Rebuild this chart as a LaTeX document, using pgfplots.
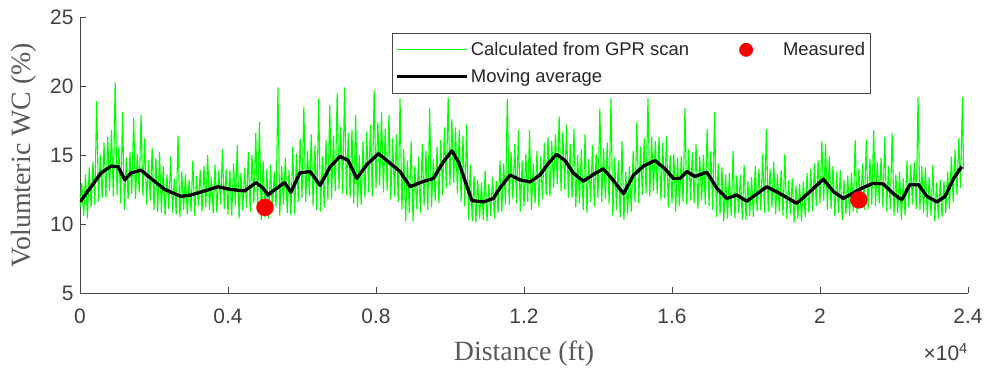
\documentclass[border=0pt]{standalone}
\usepackage{fontspec}
\setmainfont{Liberation Sans}
\newfontfamily\timesfont{Liberation Serif}
\usepackage{pgfplots}
\pgfplotsset{compat=1.18}
\definecolor{axcol}{RGB}{70,70,70}
\definecolor{tickcol}{RGB}{64,64,64}
\definecolor{labcol}{RGB}{89,89,89}
\definecolor{legcol}{RGB}{38,38,38}
\definecolor{mgreen}{RGB}{0,255,0}
\definecolor{mred}{RGB}{255,0,0}
\begin{document}
\begin{tikzpicture}
\begin{axis}[name=ax,
  scale only axis, width=888bp, height=276bp,
  xmin=0, xmax=24000, ymin=5, ymax=25,
  axis x line*=bottom, axis y line*=left,
  axis line style={draw=axcol, line width=0.8bp},
  scaled x ticks=false,
  xtick={0,4000,8000,12000,16000,20000,24000},
  xticklabels={0,0.4,0.8,1.2,1.6,2,2.4},
  ytick={5,10,15,20,25},
  tick align=inside, major tick length=6bp,
  tick style={draw=axcol, line width=0.8bp},
  ticklabel style={font=\fontsize{21}{24}\selectfont, text=tickcol},
  xticklabel style={yshift=-12bp},
  yticklabel style={xshift=-3bp},
  /pgf/number format/assume math mode=true,
  xlabel={Distance (ft)},
  ylabel={Volumteric WC (\%)},
  label style={font=\timesfont\fontsize{28}{32}\selectfont, text=labcol},
  xlabel style={at={(axis description cs:0.5,0)}, anchor=north, yshift=-44bp},
  ylabel style={at={(axis description cs:-0.063,0.5)}, anchor=center},
  legend style={at={(0.3514,0.942)}, anchor=north west, legend columns=2,
    draw=axcol, fill=white, line width=0.8bp,
    font=\fontsize{18.5}{21}\selectfont, text=legcol,
    inner xsep=3bp, inner ysep=7bp, row sep=8bp,
    /tikz/every even column/.append style={column sep=20bp}},
  legend cell align=left,
]
\addlegendimage{legend image code/.code={\draw[mgreen, line width=1.1bp] (0bp,0bp) -- (70bp,0bp);}}
\addlegendentry{Calculated from GPR scan}
\addlegendimage{legend image code/.code={\path[draw=none, fill=none] (0bp,-5bp) rectangle (70bp,5bp); \fill[mred] (35bp,0bp) circle (6.5bp);}}
\addlegendentry{Measured}
\addlegendimage{legend image code/.code={\draw[black, line width=3.5bp] (0bp,0bp) -- (70bp,0bp);}}
\addlegendentry{Moving average}
\addplot[mgreen, line width=1.1bp, forget plot] coordinates {
(0,11.2)(50,13.0)(100,10.6)(150,13.6)(200,10.4)(250,14.1)(300,11.2)(350,14.5)(400,11.4)(450,18.9)
(500,11.6)(550,15.0)(600,11.9)(650,15.9)(700,11.9)(750,16.3)(800,12.4)(850,16.8)(900,12.0)(950,20.3)
(1000,12.1)(1050,15.6)(1100,11.5)(1150,18.1)(1200,11.0)(1250,14.8)(1300,11.8)(1350,15.2)(1400,12.2)(1450,17.7)
(1500,11.8)(1550,15.1)(1600,12.3)(1650,17.9)(1700,12.0)(1750,16.2)(1800,11.4)(1850,14.6)(1900,11.7)(1950,15.5)
(2000,11.0)(2050,14.8)(2100,10.9)(2150,15.2)(2200,10.8)(2250,14.2)(2300,10.6)(2350,13.6)(2400,11.1)(2450,14.9)
(2500,10.8)(2550,13.3)(2600,10.7)(2650,16.4)(2700,10.5)(2750,13.8)(2800,11.0)(2850,13.6)(2900,10.7)(2950,13.2)
(3000,10.9)(3050,14.6)(3100,10.6)(3150,13.5)(3200,11.3)(3250,13.9)(3300,10.9)(3350,14.2)(3400,11.2)(3450,15.0)
(3500,11.0)(3550,13.4)(3600,10.8)(3650,14.3)(3700,10.8)(3750,13.9)(3800,11.4)(3850,15.4)(3900,11.1)(3950,14.0)
(4000,10.7)(4050,13.9)(4100,10.6)(4150,14.4)(4200,11.3)(4250,15.7)(4300,10.4)(4350,13.7)(4400,11.0)(4450,14.1)
(4500,11.2)(4550,15.2)(4600,10.9)(4650,15.0)(4700,11.5)(4750,16.6)(4800,11.2)(4850,17.4)(4900,10.3)(4950,14.6)
(5000,10.5)(5050,14.0)(5100,10.4)(5150,14.3)(5200,10.9)(5250,13.8)(5300,11.2)(5350,19.9)(5400,10.6)(5450,14.2)
(5500,11.4)(5550,14.8)(5600,10.8)(5650,13.9)(5700,10.6)(5750,15.6)(5800,10.7)(5850,15.1)(5900,11.6)(5950,16.2)
(6000,11.9)(6050,18.5)(6100,11.6)(6150,15.3)(6200,12.0)(6250,16.5)(6300,11.3)(6350,15.7)(6400,11.0)(6450,19.1)
(6500,10.9)(6550,14.9)(6600,11.2)(6650,16.1)(6700,11.7)(6750,18.6)(6800,11.8)(6850,16.4)(6900,12.4)(6950,19.5)
(7000,12.5)(7050,17.1)(7100,12.2)(7150,19.9)(7200,12.1)(7250,16.6)(7300,11.9)(7350,16.8)(7400,11.5)(7450,17.9)
(7500,11.2)(7550,15.0)(7600,11.4)(7650,16.0)(7700,11.9)(7750,16.7)(7800,12.3)(7850,17.2)(7900,12.0)(7950,19.7)
(8000,12.6)(8050,17.4)(8100,12.8)(8150,18.1)(8200,12.3)(8250,16.9)(8300,12.4)(8350,17.9)(8400,11.8)(8450,16.2)
(8500,12.0)(8550,16.5)(8600,11.6)(8650,19.1)(8700,11.0)(8750,15.4)(8800,10.2)(8850,14.6)(8900,10.8)(8950,16.0)
(9000,10.2)(9050,14.2)(9100,11.1)(9150,14.9)(9200,10.8)(9250,15.8)(9300,11.3)(9350,15.3)(9400,11.0)(9450,18.4)
(9500,11.2)(9550,14.7)(9600,11.7)(9650,15.6)(9700,11.5)(9750,16.1)(9800,12.1)(9850,17.0)(9900,12.6)(9950,19.2)
(10000,12.8)(10050,17.6)(10100,13.0)(10150,17.0)(10200,12.2)(10250,16.8)(10300,11.6)(10350,16.4)(10400,11.3)(10450,17.2)
(10500,10.3)(10550,14.3)(10600,10.2)(10650,13.5)(10700,10.1)(10750,13.2)(10800,10.4)(10850,13.0)(10900,10.3)(10950,13.9)
(11000,10.2)(11050,12.9)(11100,10.6)(11150,13.4)(11200,10.4)(11250,13.1)(11300,10.8)(11350,14.6)(11400,10.9)(11450,14.4)
(11500,11.4)(11550,19.1)(11600,11.4)(11650,15.2)(11700,11.8)(11750,15.8)(11800,11.5)(11850,16.8)(11900,10.9)(11950,14.6)
(12000,11.3)(12050,15.1)(12100,11.6)(12150,16.8)(12200,11.0)(12250,14.4)(12300,11.5)(12350,15.3)(12400,11.3)(12450,14.9)
(12500,11.8)(12550,15.9)(12600,12.1)(12650,16.3)(12700,12.0)(12750,16.0)(12800,12.6)(12850,16.5)(12900,12.9)(12950,17.8)
(13000,12.4)(13050,16.7)(13100,12.5)(13150,17.2)(13200,11.9)(13250,15.8)(13300,11.9)(13350,16.9)(13400,11.2)(13450,15.0)
(13500,11.5)(13550,15.4)(13600,11.0)(13650,16.5)(13700,10.8)(13750,14.7)(13800,11.6)(13850,15.7)(13900,11.3)(13950,15.1)
(14000,11.9)(14050,18.4)(14100,11.6)(14150,15.5)(14200,11.8)(14250,15.9)(14300,11.4)(14350,19.1)(14400,10.6)(14450,14.8)
(14500,11.0)(14550,14.6)(14600,10.5)(14650,16.0)(14700,10.3)(14750,13.8)(14800,10.7)(14850,14.2)(14900,10.9)(14950,15.3)
(15000,11.6)(15050,17.4)(15100,11.5)(15150,15.6)(15200,12.1)(15250,16.2)(15300,12.2)(15350,19.1)(15400,12.0)(15450,16.3)
(15500,12.4)(15550,16.0)(15600,12.2)(15650,16.3)(15700,11.7)(15750,15.9)(15800,11.9)(15850,16.4)(15900,11.2)(15950,15.0)
(16000,11.5)(16050,15.1)(16100,10.9)(16150,14.8)(16200,11.3)(16250,14.9)(16300,11.6)(16350,18.4)(16400,11.4)(16450,15.4)
(16500,11.7)(16550,15.2)(16600,11.5)(16650,15.8)(16700,11.1)(16750,14.9)(16800,11.7)(16850,15.0)(16900,11.4)(16950,16.9)
(17000,11.3)(17050,15.3)(17100,11.0)(17150,18.1)(17200,10.5)(17250,14.4)(17300,10.7)(17350,14.1)(17400,10.2)(17450,13.6)
(17500,10.4)(17550,13.7)(17600,10.6)(17650,15.3)(17700,10.4)(17750,13.5)(17800,10.8)(17850,13.6)(17900,10.3)(17950,14.3)
(18000,10.3)(18050,13.1)(18100,10.6)(18150,13.4)(18200,10.5)(18250,14.2)(18300,10.9)(18350,14.0)(18400,11.0)(18450,15.1)
(18500,10.8)(18550,16.9)(18600,10.9)(18650,14.0)(18700,11.2)(18750,14.5)(18800,10.7)(18850,13.6)(18900,10.9)(18950,13.9)
(19000,10.6)(19050,15.1)(19100,10.4)(19150,13.2)(19200,10.7)(19250,13.3)(19300,10.1)(19350,12.8)(19400,10.4)(19450,12.9)
(19500,10.2)(19550,13.1)(19600,10.5)(19650,13.7)(19700,10.8)(19750,14.0)(19800,10.9)(19850,14.4)(19900,11.3)(19950,14.6)
(20000,11.5)(20050,16.0)(20100,11.7)(20150,15.8)(20200,11.0)(20250,14.9)(20300,11.1)(20350,14.2)(20400,10.6)(20450,13.8)
(20500,10.8)(20550,13.9)(20600,10.3)(20650,13.2)(20700,10.7)(20750,13.5)(20800,10.6)(20850,13.7)(20900,10.9)(20950,16.1)
(21000,10.8)(21050,14.0)(21100,11.2)(21150,14.4)(21200,11.0)(21250,16.1)(21300,11.1)(21350,14.7)(21400,11.4)(21450,16.8)
(21500,11.3)(21550,14.5)(21600,11.5)(21650,14.8)(21700,11.2)(21750,16.3)(21800,10.9)(21850,14.2)(21900,11.1)(21950,16.6)
(22000,10.6)(22050,13.6)(22100,10.8)(22150,13.8)(22200,10.3)(22250,13.3)(22300,10.6)(22350,14.6)(22400,11.2)(22450,14.3)
(22500,11.4)(22550,14.5)(22600,11.1)(22650,19.2)(22700,11.0)(22750,14.2)(22800,10.8)(22850,14.1)(22900,10.5)(22950,13.4)
(23000,10.6)(23050,14.3)(23100,10.2)(23150,13.0)(23200,10.4)(23250,13.2)(23300,10.5)(23350,13.1)(23400,10.8)(23450,13.8)
(23500,11.1)(23550,14.9)(23600,11.6)(23650,15.4)(23700,12.1)(23750,16.2)(23800,12.6)(23850,19.2)(23880,13.9)
};
\addplot[black, line width=3.3bp, line join=round, forget plot] coordinates {
(0,11.6)(300,12.7)(570,13.7)(840,14.2)(1030,14.15)(1210,13.2)(1380,13.7)(1650,13.9)(1920,13.3)(2290,12.5)
(2730,12.0)(3000,12.1)(3370,12.4)(3730,12.7)(4080,12.5)(4450,12.4)(4760,13.0)(4950,12.6)(5080,12.1)(5220,12.4)
(5530,13.0)(5700,12.3)(5940,13.7)(6220,13.8)(6490,12.8)(6760,14.15)(7030,14.9)(7250,14.6)(7480,13.3)(7750,14.3)
(8070,15.1)(8380,14.4)(8650,13.8)(8920,12.7)(9190,13.0)(9550,13.3)(9820,14.5)(10050,15.3)(10230,14.5)(10410,13.1)
(10590,11.7)(10900,11.6)(11170,11.85)(11350,12.6)(11620,13.55)(11890,13.2)(12160,13.05)(12430,13.55)(12660,14.4)(12880,15.05)
(13110,14.6)(13330,13.7)(13600,13.1)(13880,13.6)(14140,14.0)(14370,13.3)(14690,12.2)(14960,13.55)(15230,14.2)(15540,14.6)
(15810,14.0)(16040,13.3)(16220,13.3)(16400,13.8)(16620,13.45)(16940,13.75)(17210,12.6)(17480,11.85)(17750,12.1)(18020,11.65)
(18200,12.0)(18560,12.7)(18920,12.2)(19370,11.5)(19730,12.35)(20090,13.25)(20360,12.35)(20630,11.85)(20860,12.2)(21130,12.6)
(21440,12.95)(21710,12.9)(21980,12.2)(22210,11.75)(22430,12.85)(22660,12.85)(22890,12.0)(23160,11.6)(23380,12.0)(23610,13.3)
(23830,14.15)
};
\addplot[only marks, mark=*, mark size=8.5bp, color=mred, mark options={draw=mred, fill=mred}, forget plot] coordinates {(5000,11.2)(21050,11.75)};
\end{axis}
\node[anchor=north east, font=\fontsize{21}{24}\selectfont, text=tickcol, inner sep=2bp] at ([xshift=2bp,yshift=-48bp]ax.south east) {×10\textsuperscript{4}};
\pgfresetboundingbox
\path[use as bounding box] ([xshift=-80bp,yshift=-82bp]ax.south west) rectangle ++(993bp,375bp);
\end{tikzpicture}
\end{document}
